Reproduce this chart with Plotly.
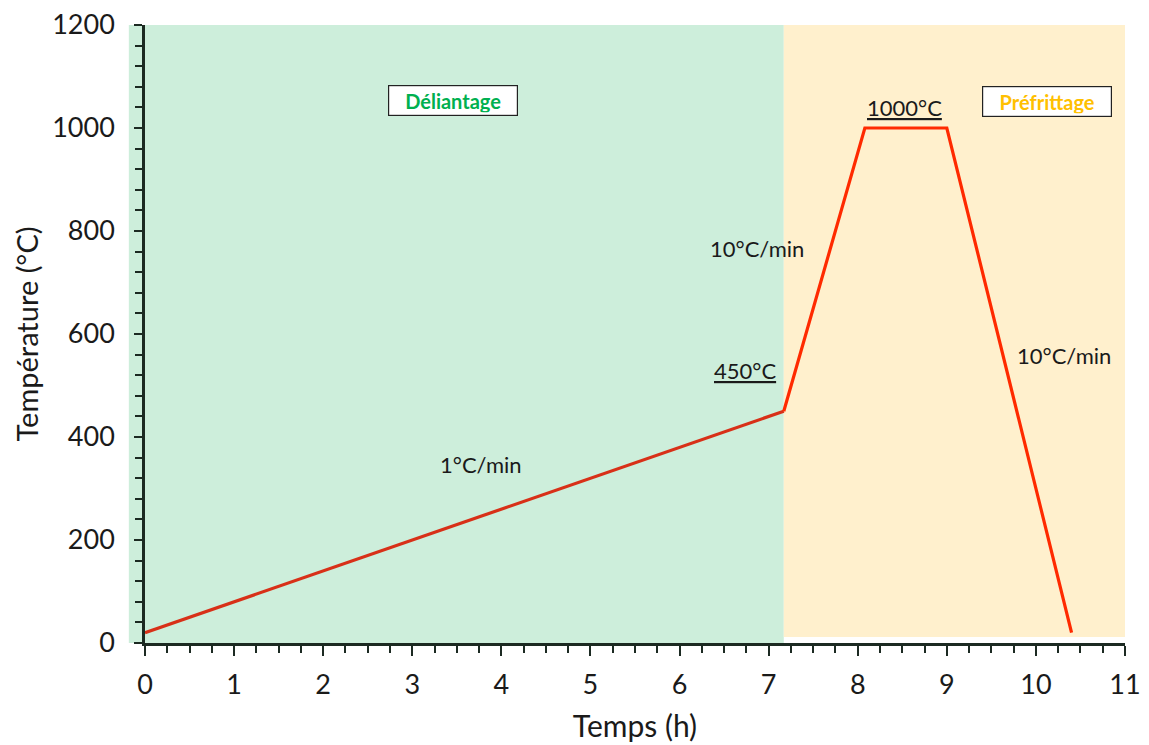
import plotly.graph_objects as go

# Data
times = [0, 7.17, 8.08, 9.0, 10.4]          # h
temps = [20, 450, 1000, 1000, 20]           # °C
phase_names = ["Déliantage", "Préfrittage"]
phase_bounds = [0, 7.17, 11]
x_ticks = list(range(0, 12))
y_ticks = list(range(0, 1201, 200))

labels_text = ["1°C/min", "<u>450°C</u>", "10°C/min", "<u>1000°C</u>", "10°C/min"]
labels_x = [3.77, 6.73, 6.87, 8.53, 10.32]
labels_y = [346, 530, 767, 1039, 559]

phase_label_x = [3.457, 10.13]
phase_label_y = [1054, 1052]

FONT = "Lato, 'Open Sans', sans-serif"
AX = "#1c2a22"

fig = go.Figure()

# Background phases
x_lo, x_hi = 0, 11
def to_paper(v):
    return (v - x_lo) / (x_hi - x_lo)

fig.add_shape(type="rect", xref="paper", yref="paper",
              x0=-0.0165, x1=to_paper(phase_bounds[1]), y0=0, y1=1,
              fillcolor="#cdeedb", line_width=0, layer="below")
fig.add_shape(type="rect", xref="paper", yref="paper",
              x0=to_paper(phase_bounds[1]), x1=to_paper(phase_bounds[2]), y0=0.0097, y1=1,
              fillcolor="#fff0cd", line_width=0, layer="below")

# Temperature profile
fig.add_trace(go.Scatter(x=times[:2], y=temps[:2], mode="lines",
                         line=dict(color="#d83018", width=3.2), showlegend=False,
                         hoverinfo="skip"))
fig.add_trace(go.Scatter(x=times[1:], y=temps[1:], mode="lines",
                         line=dict(color="#ff2a00", width=3.2), showlegend=False,
                         hoverinfo="skip"))

for t, x, y in zip(labels_text, labels_x, labels_y):
    fig.add_annotation(x=x, y=y, text=t, showarrow=False,
                       font=dict(family=FONT, size=22, color="#1a1a1a"))

for name, x, y, c in zip(phase_names, phase_label_x, phase_label_y, ["#00b050", "#ffc000"]):
    fig.add_annotation(x=x, y=y, text="<b>" + name + "</b>", showarrow=False,
                       font=dict(family=FONT, size=20, color=c),
                       bgcolor="white", bordercolor="#222", borderwidth=1.2,
                       borderpad=3, width=122, height=23)

fig.update_layout(
    width=1149, height=745,
    margin=dict(l=145, r=24, t=25, b=102),
    paper_bgcolor="white", plot_bgcolor="rgba(0,0,0,0)",
    font=dict(family=FONT, color="#1a1a1a"),
    showlegend=False,
)
fig.update_xaxes(
    range=[x_lo, x_hi], tickvals=x_ticks, ticktext=[str(v) for v in x_ticks],
    automargin=False,
    showgrid=False, zeroline=False, showline=True, linecolor=AX, linewidth=2.5,
    ticks="outside", ticklen=10, tickwidth=2, tickcolor=AX,
    minor=dict(dtick=0.25, ticks="outside", ticklen=7, tickwidth=2, tickcolor=AX, showgrid=False),
    tickfont=dict(family=FONT, size=27, color="#1a1a1a"), ticklabelstandoff=6,
    title=dict(text="Temps (h)", font=dict(family=FONT, size=30, color="#1a1a1a"), standoff=17),
)
fig.update_yaxes(
    range=[0, 1200], tickvals=y_ticks, ticktext=[str(v) for v in y_ticks],
    automargin=False,
    showgrid=False, zeroline=False, showline=True, linecolor=AX, linewidth=2.5,
    ticks="outside", ticklen=8, tickwidth=2, tickcolor=AX,
    minor=dict(dtick=40, ticks="outside", ticklen=7, tickwidth=2, tickcolor=AX, showgrid=False),
    tickfont=dict(family=FONT, size=27, color="#1a1a1a"), ticklabelstandoff=14,
    title=dict(text="Température (°C)", font=dict(family=FONT, size=29, color="#1a1a1a"), standoff=6),
)

fig.write_html("out.html", config={"displayModeBar": False},
               post_script="document.body.style.margin='0';document.body.style.overflow='hidden';")
